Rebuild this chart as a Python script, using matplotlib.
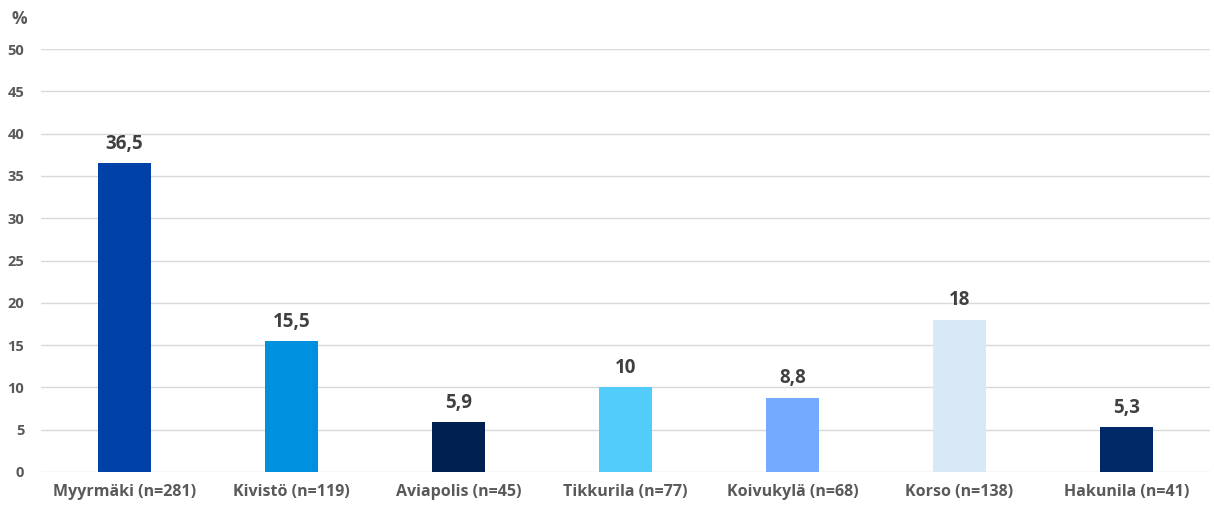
import numpy as np
import matplotlib.pyplot as plt

plt.rcParams['font.family'] = ['Open Sans', 'DejaVu Sans']

categories = ['Myyrmäki (n=281)', 'Kivistö (n=119)', 'Aviapolis (n=45)', 'Tikkurila (n=77)',
              'Koivukylä (n=68)', 'Korso (n=138)', 'Hakunila (n=41)']
values = [36.5, 15.5, 5.9, 10, 8.8, 18, 5.3]
labels = ['36,5', '15,5', '5,9', '10', '8,8', '18', '5,3']
colors = ['#0041A8', '#0090E0', '#002052', '#52CCFB', '#74AAFF', '#D8E8F7', '#002866']

fig = plt.figure(figsize=(12.14, 5.08), dpi=100)
ax = fig.add_axes([0.0338, 0.0709, 0.9629, 0.8326])

x = np.arange(len(categories))
ax.bar(x, values, width=0.32, color=colors, zorder=2)
for xi, v, lab in zip(x, values, labels):
    ax.text(xi, v + 1.1, lab, ha='center', va='bottom', fontsize=13.5, fontweight='bold', color='#404040')

ax.set_xlim(-0.5, len(categories) - 0.5)
ax.set_ylim(0, 50)
ax.set_yticks(np.arange(0, 51, 5))
ax.yaxis.grid(True, color='#D9D9D9', linewidth=1, zorder=0)
ax.set_xticks(x)
ax.set_xticklabels(categories, fontsize=11.5, fontweight='bold', color='#595959')
for lab in ax.get_yticklabels():
    lab.set_fontweight('bold')
ax.tick_params(axis='y', labelsize=10.5, labelcolor='#595959', length=0, pad=12)
ax.tick_params(axis='x', length=0, pad=9)
for s in ax.spines.values():
    s.set_visible(False)

fig.text(0.0157, 0.962, '%', fontsize=12.5, fontweight='bold', color='#595959', va='center', ha='center')

fig.savefig('out.png', dpi=100)
